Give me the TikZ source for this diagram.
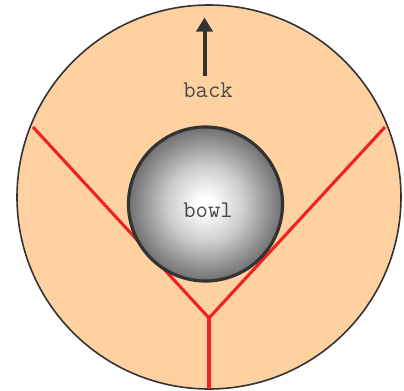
\documentclass[tikz,border=0pt]{standalone}
\usetikzlibrary{arrows.meta,positioning}

\definecolor{peach}{HTML}{FFD1A0}
\definecolor{rimgray}{HTML}{333333}
\definecolor{cutred}{HTML}{EE2222}
\definecolor{txtgray}{HTML}{4A4A4A}

\pgfdeclareradialshading{bowlshade}{\pgfpoint{0bp}{0bp}}{%
  color(0bp)=(white); color(2.5bp)=(white);
  color(12.5bp)=(black!20); color(25bp)=(black!56);
  color(50bp)=(black!56)}

\begin{document}
\begin{tikzpicture}[
    x=0.75pt, y=-0.75pt,
    >=Triangle,
    rim/.style    = {draw=rimgray, line width=1.2pt, fill=peach},
    cut/.style    = {draw=cutred, line width=2.3pt},
    ball/.style   = {circle, draw=rimgray, line width=2.4pt,
                     inner sep=0pt, minimum size=115.5pt,
                     shading=bowlshade},
    word/.style   = {font=\ttfamily\fontsize{18}{20}\selectfont,
                     text=txtgray, inner sep=0pt},
    pointer/.style = {draw=rimgray, line width=3pt,
                      -{Triangle[width=12pt,length=10.5pt]}}
  ]

  \useasboundingbox (0,0) rectangle (404,390);

  % plate
  \draw[rim] (209,197) circle[radius=192];

  % cut lines
  \coordinate (rimL) at (33,127);
  \coordinate (rimR) at (385,127);
  \coordinate (rimB) at (209,389);
  \coordinate (fork) at (209,318);

  \draw[cut] (rimL) -- (fork) -- (rimR);
  \draw[cut] (fork) -- (rimB);

  % bowl
  \node[ball] (bowl) at (205.5,204) {};
  \node[word] (bowltxt) at (208,210) {bowl};

  % back marker
  \node[word] (back) at (208,90) {back};
  \coordinate (tail) at (204.5,76);
  \coordinate (tip)  at (204.5,17.5);
  \draw[pointer] (tail) -- (tip);

\end{tikzpicture}
\end{document}
